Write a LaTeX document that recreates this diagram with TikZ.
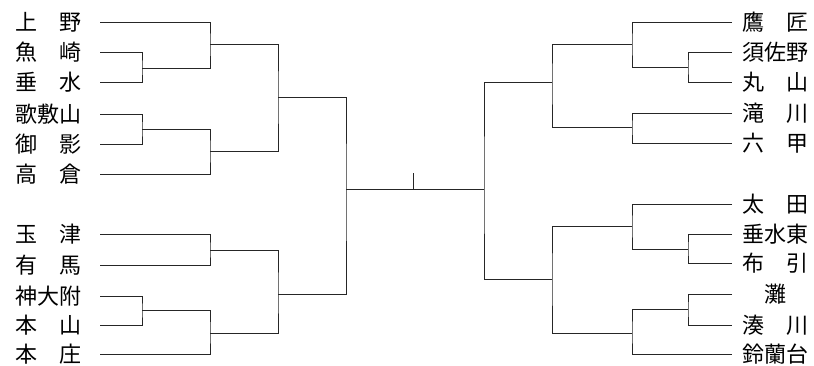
\documentclass[tikz,border=0pt]{standalone}
\usepackage{fontspec}
\newfontfamily\jpfont{Noto Sans CJK JP}
\usetikzlibrary{positioning}

\begin{document}
\begin{tikzpicture}[x=1pt, y=-1pt,
    lteam/.style={anchor=east, inner xsep=18pt, inner ysep=0pt, font=\jpfont\fontsize{22}{22}\selectfont},
    rteam/.style={anchor=west, inner xsep=10pt, inner ysep=0pt, font=\jpfont\fontsize{22}{22}\selectfont},
    bracket/.style={line width=0.9pt, black!85}]
      \useasboundingbox (0,0) rectangle (814,365);

      \node [lteam] (ueno)       at (100,22)  {上\quad 野};
      \node [lteam] (uozaki)     at (100,52)  {魚\quad 崎};
      \node [lteam] (tarumi)     at (100,82)  {垂\quad 水};
      \node [lteam] (kabutoyama) at (100,114) {歌敷山};
      \node [lteam] (mikage)     at (100,144) {御\quad 影};
      \node [lteam] (takakura)   at (100,174) {高\quad 倉};
      \node [lteam] (tamatsu)    at (100,234) {玉\quad 津};
      \node [lteam] (arima)      at (100,265) {有\quad 馬};
      \node [lteam] (shindaifu)  at (100,296) {神大附};
      \node [lteam] (motoyama)   at (100,325) {本\quad 山};
      \node [lteam] (honjo)      at (100,354) {本\quad 庄};

      \node [rteam] (takasho)    at (732,22)  {鷹\quad 匠};
      \node [rteam] (susano)     at (732,52)  {須佐野};
      \node [rteam] (maruyama)   at (732,82)  {丸\quad 山};
      \node [rteam] (takigawa)   at (732,113) {滝\quad 川};
      \node [rteam] (rokko)      at (732,143) {六\quad 甲};
      \node [rteam] (ota)        at (732,204) {太\quad 田};
      \node [rteam] (tarumihig)  at (732,234) {垂水東};
      \node [rteam] (nunobiki)   at (732,263) {布\quad 引};
      \node [rteam] (nada)       at (732,294) {\quad 灘\quad};
      \node [rteam] (minatogawa) at (732,325) {湊\quad 川};
      \node [rteam] (suzurandai) at (732,354) {鈴蘭台};

      \coordinate (a1) at (142,68);
      \coordinate (a2) at (210,44);
      \coordinate (a3) at (142,129);
      \coordinate (a4) at (210,151);
      \coordinate (a5) at (278,97);
      \coordinate (a6) at (210,250);
      \coordinate (a7) at (142,310);
      \coordinate (a8) at (210,333);
      \coordinate (a9) at (278,294);
      \coordinate (a10) at (346,189);

      \coordinate (b1) at (688,67);
      \coordinate (b2) at (632,44);
      \coordinate (b3) at (632,127);
      \coordinate (b4) at (552,82);
      \coordinate (b5) at (688,249);
      \coordinate (b6) at (632,226);
      \coordinate (b7) at (688,309);
      \coordinate (b8) at (632,333);
      \coordinate (b9) at (552,279);
      \coordinate (b10) at (484,189);

      \coordinate (win) at (413,173);

      \draw[bracket] (uozaki.east) -| (a1) |- (tarumi.east);
      \draw[bracket] (ueno.east) -| (a2) |- (a1);
      \draw[bracket] (kabutoyama.east) -| (a3) |- (mikage.east);
      \draw[bracket] (a3) -| (a4) |- (takakura.east);
      \draw[bracket] (a2) -| (a5) |- (a4);
      \draw[bracket] (tamatsu.east) -| (a6) |- (arima.east);
      \draw[bracket] (shindaifu.east) -| (a7) |- (motoyama.east);
      \draw[bracket] (a7) -| (a8) |- (honjo.east);
      \draw[bracket] (a6) -| (a9) |- (a8);
      \draw[bracket] (a5) -| (a10) |- (a9);

      \draw[bracket] (susano.west) -| (b1) |- (maruyama.west);
      \draw[bracket] (takasho.west) -| (b2) |- (b1);
      \draw[bracket] (takigawa.west) -| (b3) |- (rokko.west);
      \draw[bracket] (b2) -| (b4) |- (b3);
      \draw[bracket] (tarumihig.west) -| (b5) |- (nunobiki.west);
      \draw[bracket] (ota.west) -| (b6) |- (b5);
      \draw[bracket] (nada.west) -| (b7) |- (minatogawa.west);
      \draw[bracket] (b7) -| (b8) |- (suzurandai.west);
      \draw[bracket] (b6) -| (b9) |- (b8);
      \draw[bracket] (b4) -| (b10) |- (b9);

      \draw[bracket] (a10) -- (b10);
      \draw[bracket] (win) -- (win |- a10);
    \end{tikzpicture}
\end{document}
